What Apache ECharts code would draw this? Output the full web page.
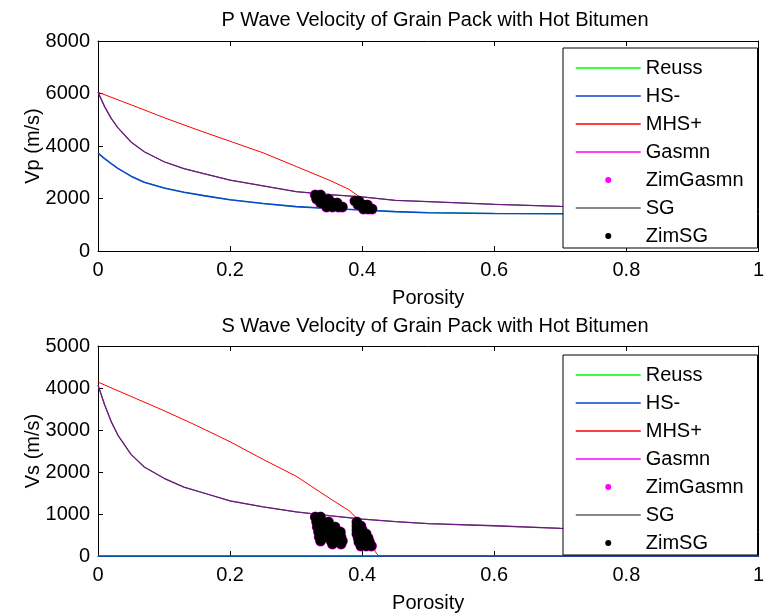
<!DOCTYPE html>
<html>
<head>
<meta charset="utf-8">
<script src="https://cdn.jsdelivr.net/npm/echarts@6/dist/echarts.min.js"></script>
<style>
  html, body { margin: 0; padding: 0; background: #fff; }
  #chart { width: 767px; height: 614px; }
</style>
</head>
<body>
<div id="chart"></div>
<script>
// porosity grid for the bound curves
const phi = [0, 0.01, 0.02, 0.03, 0.05, 0.07, 0.1, 0.13, 0.16, 0.2, 0.25, 0.3, 0.35, 0.4, 0.45, 0.5, 0.6, 0.7, 0.8, 0.9, 1.0]

// P wave (m/s)
const vpReuss = [3730, 3520, 3330, 3150, 2850, 2620, 2400, 2240, 2110, 1950, 1810, 1690, 1620, 1560, 1500, 1460, 1430, 1420, 1410, 1405, 1400]
const vpHS = [3730, 3520, 3330, 3150, 2850, 2620, 2400, 2240, 2110, 1950, 1810, 1690, 1620, 1560, 1500, 1460, 1430, 1420, 1410, 1405, 1400]
const vpGasmn = [6050, 5500, 5050, 4700, 4150, 3780, 3400, 3140, 2950, 2700, 2480, 2260, 2150, 2060, 1930, 1880, 1780, 1700, 1660, 1630, 1600]
const vpSG = [6050, 5500, 5050, 4700, 4150, 3780, 3400, 3140, 2950, 2700, 2480, 2260, 2150, 2060, 1930, 1880, 1780, 1700, 1660, 1630, 1600]
const mhsPhiP = [0, 0.05, 0.1, 0.15, 0.2, 0.25, 0.3, 0.35, 0.38, 0.395]
const vpMHS = [6050, 5570, 5080, 4620, 4180, 3740, 3220, 2700, 2350, 2080]

// S wave (m/s)
const vsReuss = [0, 0, 0, 0, 0, 0, 0, 0, 0, 0, 0, 0, 0, 0, 0, 0, 0, 0, 0, 0, 0]
const vsHS = [0, 0, 0, 0, 0, 0, 0, 0, 0, 0, 0, 0, 0, 0, 0, 0, 0, 0, 0, 0, 0]
const vsGasmn = [4070, 3600, 3200, 2880, 2420, 2120, 1850, 1640, 1500, 1310, 1170, 1050, 960, 880, 820, 770, 720, 660, 620, 590, 570]
const vsSG = [4070, 3600, 3200, 2880, 2420, 2120, 1850, 1640, 1500, 1310, 1170, 1050, 960, 880, 820, 770, 720, 660, 620, 590, 570]
const mhsPhiS = [0, 0.05, 0.1, 0.15, 0.2, 0.25, 0.3, 0.35, 0.38, 0.39, 0.4, 0.41, 0.42, 0.425, 1.0]
const vsMHS = [4140, 3800, 3460, 3100, 2720, 2300, 1900, 1380, 1080, 930, 780, 520, 100, 0, 0]

// Zimmer samples
const zimPhiP = [0.329, 0.337,
  0.331, 0.340, 0.349,
  0.337, 0.346, 0.355, 0.362,
  0.346, 0.355, 0.364, 0.370,
  0.389, 0.395,
  0.394, 0.402, 0.408,
  0.402, 0.409, 0.415]
const zimVp = [2134, 2134,
  1981, 1981, 1981,
  1829, 1829, 1829, 1829,
  1676, 1676, 1676, 1676,
  1905, 1905,
  1753, 1753, 1753,
  1600, 1600, 1600]
const zimPhiS = [0.329, 0.337,
  0.331, 0.340, 0.349,
  0.332, 0.341, 0.350, 0.359,
  0.334, 0.343, 0.352, 0.361, 0.367,
  0.335, 0.344, 0.353, 0.362, 0.368,
  0.337, 0.353, 0.364, 0.370,
  0.355, 0.368,
  0.392,
  0.392, 0.398,
  0.392, 0.400,
  0.392, 0.400, 0.406,
  0.394, 0.402, 0.409,
  0.395, 0.403, 0.411,
  0.398, 0.406, 0.414]
const zimVs = [928, 928,
  810, 810, 810,
  690, 690, 690, 690,
  571, 571, 571, 571, 571,
  452, 452, 452, 452, 452,
  357, 357, 357, 357,
  286, 286,
  810,
  714, 714,
  619, 619,
  524, 524, 524,
  428, 428, 428,
  333, 333, 333,
  238, 238, 238]

const xTicks = ['0', '0.2', '0.4', '0.6', '0.8', '1']

const FONT = 'Liberation Sans, Arial, sans-serif'
const FS = 20
const pairs = (xs, ys) => xs.map((x, i) => [x, ys[i]])
const dotIcon = 'path://M0,0L0.1,0M65,13L64.9,13M29.5,6.5A3,3,0,1,0,35.5,6.5A3,3,0,1,0,29.5,6.5Z'

const chart = echarts.init(document.getElementById('chart'))

function xAx(grid, top) {
  return {
    type: 'value', gridIndex: grid, min: 0, max: 1, interval: 0.2,
    position: top ? 'top' : 'bottom',
    name: top ? '' : 'Porosity', nameLocation: 'middle', nameGap: 37, nameMoveOverlap: false,
    nameTextStyle: { color: '#000', fontSize: FS, fontFamily: FONT },
    axisLine: { show: true, onZero: false, lineStyle: { color: '#000', width: 1 } },
    axisTick: { show: true, inside: true, length: 5, lineStyle: { color: '#000' } },
    axisLabel: { show: !top, color: '#000', fontSize: FS, fontFamily: FONT, margin: 9,
      formatter: v => xTicks[Math.round(v / 0.2)] },
    splitLine: { show: false }
  }
}

function yAx(grid, right, max, interval, name) {
  return {
    type: 'value', gridIndex: grid, min: 0, max: max, interval: interval,
    position: right ? 'right' : 'left',
    name: right ? '' : name, nameLocation: 'middle', nameGap: 55, nameMoveOverlap: false,
    nameTextStyle: { color: '#000', fontSize: FS, fontFamily: FONT },
    axisLine: { show: true, onZero: false, lineStyle: { color: '#000', width: 1 } },
    axisTick: { show: true, inside: true, length: 5, lineStyle: { color: '#000' } },
    axisLabel: { show: !right, color: '#000', fontSize: FS, fontFamily: FONT, margin: 8,
      formatter: v => String(v) },
    splitLine: { show: false }
  }
}

function line(name, grid, data, color, width, z) {
  return {
    name, type: 'line', xAxisIndex: grid * 2, yAxisIndex: grid * 2, data,
    symbol: 'none', clip: false, z: z,
    lineStyle: { color, width }, itemStyle: { color }
  }
}

function dots(name, grid, data, color, size, z) {
  return {
    name, type: 'scatter', xAxisIndex: grid * 2, yAxisIndex: grid * 2, data,
    symbol: 'circle', symbolSize: size, z: z, itemStyle: { color, opacity: 1 }
  }
}

function legend(top) {
  const noDot = { opacity: 0 }
  return {
    orient: 'vertical', left: 563, top: top,
    backgroundColor: '#fff', borderColor: '#000', borderWidth: 1,
    padding: [10, 14, 2, 12],
    itemWidth: 65, itemHeight: 13, itemGap: 8,
    textStyle: { color: '#000', fontSize: FS, lineHeight: 20, fontFamily: FONT },
    selectedMode: false,
    data: [
      { name: 'Reuss', itemStyle: noDot, lineStyle: { width: 1.5, opacity: 1 } },
      { name: 'HS-', itemStyle: noDot, lineStyle: { width: 1.5, opacity: 1 } },
      { name: 'MHS+', itemStyle: noDot, lineStyle: { width: 1.5, opacity: 1 } },
      { name: 'Gasmn', itemStyle: noDot, lineStyle: { width: 1.5, opacity: 1, color: '#ff00ff' } },
      { name: 'ZimGasmn', icon: dotIcon },
      { name: 'SG', itemStyle: noDot, lineStyle: { width: 1.5, opacity: 1, color: '#606060' } },
      { name: 'ZimSG', icon: dotIcon }
    ]
  }
}

const purple = '#6a1b7e'
const blue = '#0a46d0'

chart.setOption({
  animation: false,
  backgroundColor: '#fff',
  title: [
    { text: 'P Wave Velocity of Grain Pack with Hot Bitumen', left: 430, textAlign: 'center', top: 5,
      textStyle: { color: '#000', fontSize: FS, fontWeight: 'normal', fontFamily: FONT } },
    { text: 'S Wave Velocity of Grain Pack with Hot Bitumen', left: 430, textAlign: 'center', top: 311,
      textStyle: { color: '#000', fontSize: FS, fontWeight: 'normal', fontFamily: FONT } }
  ],
  legend: [legend(48), legend(355)],
  grid: [
    { left: 98, top: 41, width: 665, height: 210 },
    { left: 98, top: 346, width: 665, height: 210 }
  ],
  xAxis: [xAx(0, false), xAx(0, true), xAx(1, false), xAx(1, true)],
  yAxis: [
    yAx(0, false, 8000, 2000, 'Vp (m/s)'), yAx(0, true, 8000, 2000, ''),
    yAx(1, false, 5000, 1000, 'Vs (m/s)'), yAx(1, true, 5000, 1000, '')
  ],
  series: [
    line('Reuss', 0, pairs(phi, vpReuss), '#00ff00', 1, 2),
    line('HS-', 0, pairs(phi, vpHS), blue, 1.6, 3),
    line('MHS+', 0, pairs(mhsPhiP, vpMHS), '#ff0000', 1, 3),
    line('SG', 0, pairs(phi, vpSG), '#606060', 1, 2),
    line('Gasmn', 0, pairs(phi, vpGasmn), purple, 1.3, 3),
    dots('ZimGasmn', 0, pairs(zimPhiP, zimVp), '#ff00ff', 11, 4),
    dots('ZimSG', 0, pairs(zimPhiP, zimVp), '#000000', 10, 5),

    line('Reuss', 1, pairs(phi, vsReuss), '#00ff00', 1, 2),
    line('MHS+', 1, pairs(mhsPhiS, vsMHS), '#ff0000', 1, 2),
    line('HS-', 1, pairs(phi, vsHS), blue, 1.6, 3),
    line('SG', 1, pairs(phi, vsSG), '#606060', 1, 2),
    line('Gasmn', 1, pairs(phi, vsGasmn), purple, 1.3, 3),
    dots('ZimGasmn', 1, pairs(zimPhiS, zimVs), '#ff00ff', 11, 4),
    dots('ZimSG', 1, pairs(zimPhiS, zimVs), '#000000', 10, 5)
  ]
})
</script>
</body>
</html>
